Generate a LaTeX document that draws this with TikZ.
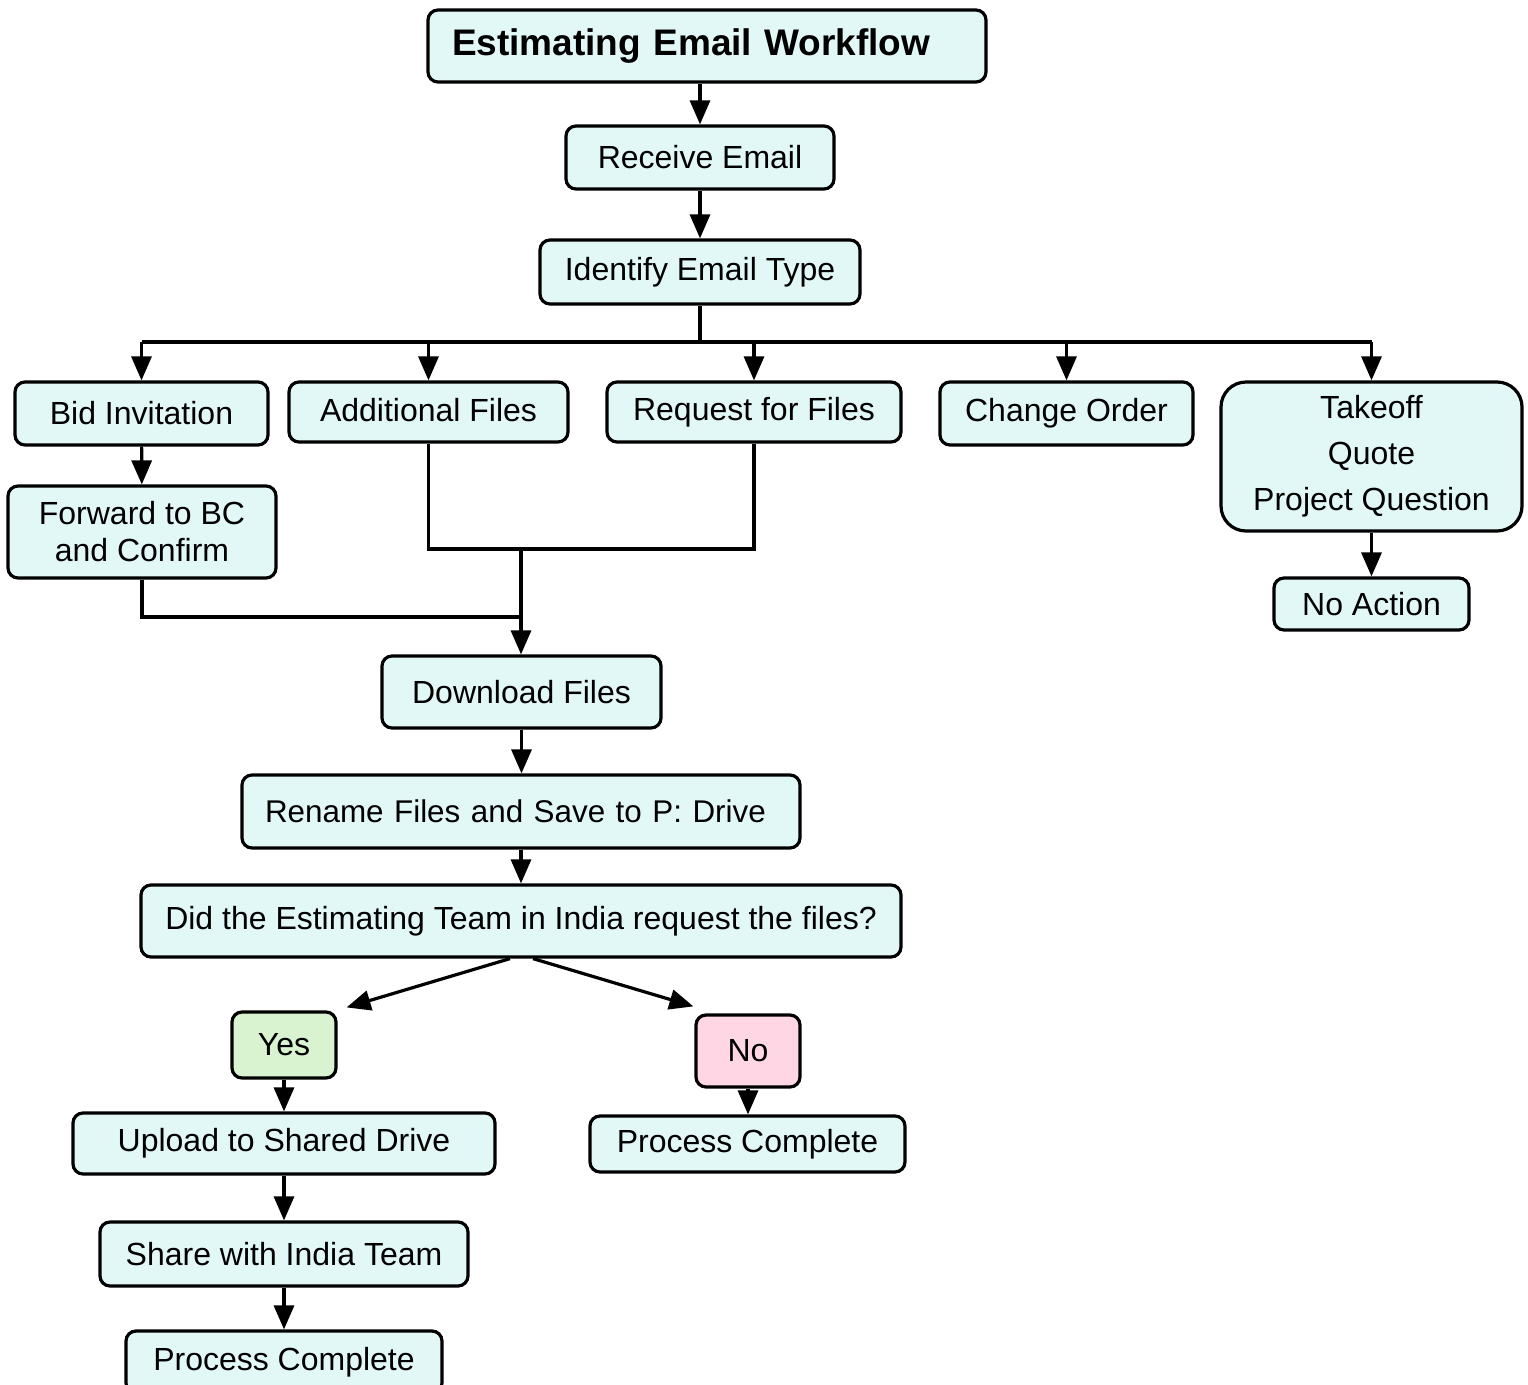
\documentclass[tikz,border=0pt]{standalone}
\usepackage{fontspec}
\setmainfont{Liberation Sans}
\usetikzlibrary{arrows.meta}
\definecolor{boxfill}{HTML}{E2F8F7}
\definecolor{yesfill}{HTML}{D9F2D0}
\definecolor{nofill}{HTML}{FFD6E3}
\begin{document}
\begin{tikzpicture}[x=1pt,y=-1pt,
  box/.style={draw=black, line width=3.2pt, rounded corners=10pt, fill=boxfill, inner sep=0pt,
    font=\fontsize{32}{37}\selectfont, align=center},
  conn/.style={line width=3.2pt},
  arr/.style={line width=3.2pt, -{Triangle[length=24pt,width=20pt]}}]
\useasboundingbox (0,0) rectangle (1528,1384);
\clip (0,0) rectangle (1528,1384);
\fill[white] (0,0) rectangle (1528,1384);

\node[box, minimum width=558pt, minimum height=72pt, text width=510pt, align=left,
  font=\fontsize{37}{44}\selectfont\bfseries] (title) at (707,46) {Estimating Email Workflow};
\node[box, minimum width=268pt, minimum height=63pt] (receive) at (700,157.5) {Receive Email};
\node[box, minimum width=320pt, minimum height=64pt] (identify) at (700,272) {Identify Email Type};

\node[box, minimum width=253pt, minimum height=63pt] (bid) at (141.5,413.5) {Bid Invitation};
\node[box, minimum width=279pt, minimum height=60pt, text depth=5pt] (add) at (428.5,412) {Additional Files};
\node[box, minimum width=294pt, minimum height=60pt] (req) at (754,412) {Request for Files};
\node[box, minimum width=253pt, minimum height=63pt] (change) at (1066.5,413.5) {Change Order};
\node[box, minimum width=301pt, minimum height=149pt, rounded corners=25pt,
  font=\fontsize{32}{46}\selectfont] (take) at (1371.5,456.5) {Takeoff\\Quote\\Project Question};
\node[box, minimum width=195pt, minimum height=52pt] (noact) at (1371.5,604) {No Action};
\node[box, minimum width=268pt, minimum height=92pt] (fwd) at (142,532) {Forward to BC\\and Confirm};

\node[box, minimum width=279pt, minimum height=72pt] (down) at (521.5,692) {Download Files};
\node[box, minimum width=558pt, minimum height=73pt, text width=512pt, align=left,
  font=\fontsize{31.4}{37}\selectfont] (rename) at (521,811.5) {Rename Files and Save to P: Drive};
\node[box, minimum width=760pt, minimum height=72pt] (did) at (521,921) {Did the Estimating Team in India request the files?};

\node[box, fill=yesfill, minimum width=104pt, minimum height=66pt] (yes) at (284,1045) {Yes};
\node[box, fill=nofill, minimum width=104pt, minimum height=72pt] (no) at (748,1051) {No};
\node[box, minimum width=422pt, minimum height=61pt] (upload) at (284,1143.5) {Upload to Shared Drive};
\node[box, minimum width=315pt, minimum height=56pt] (pc1) at (747.5,1144) {Process Complete};
\node[box, minimum width=368pt, minimum height=64pt] (share) at (284,1254) {Share with India Team};
\node[box, minimum width=316pt, minimum height=62pt] (pc2) at (284,1362) {Process Complete};

\coordinate (bar) at (700,342);
\coordinate (merge) at (521,549);
\coordinate (join) at (521,617);

\draw[arr] (receive.north |- title.south) -- (receive.north);
\draw[arr] (receive) -- (identify);
\draw[conn] (identify.south) -- (bar);
\draw[conn] (bid.north |- bar) -- (take.north |- bar);
\draw[arr] (bid.north |- bar) -- (bid.north);
\draw[arr] (add.north |- bar) -- (add.north);
\draw[arr] (req.north |- bar) -- (req.north);
\draw[arr] (change.north |- bar) -- (change.north);
\draw[arr] (take.north |- bar) -- (take.north);
\draw[arr] (take) -- (noact);
\draw[arr] (bid) -- (fwd);
\draw[conn] (add.south) -- (add.south |- merge) -- (req.south |- merge) -- (req.south);
\draw[arr] (merge) -- (merge |- down.north);
\draw[conn] (fwd.south) -- (fwd.south |- join) -- (join);
\draw[arr] (down) -- (down |- rename.north);
\draw[arr] (rename.south) -- (rename.south |- did.north);
\draw[arr] ([xshift=-11pt]did.south) -- ([xshift=9pt,yshift=3pt]yes.north east);
\draw[arr] ([xshift=12pt]did.south) -- ([xshift=-1pt,yshift=7pt]no.north west);
\draw[arr] (yes) -- (upload);
\draw[arr] (no) -- (no |- pc1.north);
\draw[arr] (upload) -- (share);
\draw[arr] (share) -- (pc2);
\end{tikzpicture}
\end{document}
